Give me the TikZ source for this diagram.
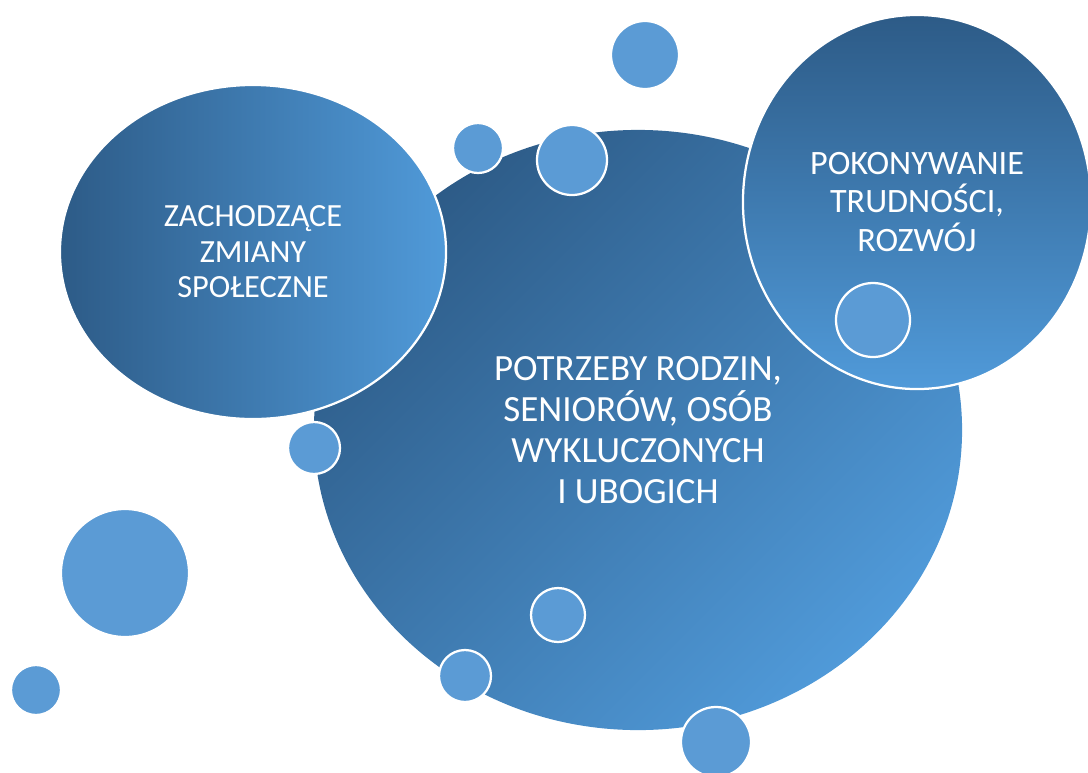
\documentclass[tikz,border=0pt]{standalone}
\usepackage{fontspec}
\setmainfont{Carlito}
\usetikzlibrary{shapes.geometric}

\definecolor{darkblue}{HTML}{2D5B87}
\definecolor{lightblue}{HTML}{509AD9}
\definecolor{bubblefill}{HTML}{5B9BD5}

\begin{document}
\begin{tikzpicture}[x=0.025cm, y=-0.025cm,
  bigblob/.style={ellipse, draw=white, line width=1.6pt, inner sep=0pt, text=white, align=center},
  bubble/.style={circle, fill=bubblefill, draw=white, line width=1.6pt, inner sep=0pt, minimum size=#1}]
\useasboundingbox (0,0) rectangle (1088,772);

% Main circle
\node[bigblob, draw=none, minimum width=16.2cm, minimum height=15cm,
  top color=darkblue, bottom color=lightblue, shading angle=45,
  font=\fontsize{26.3}{29.3}\selectfont] (needs) at (638,430)
  {POTRZEBY RODZIN,\\SENIORÓW, OSÓB\\WYKLUCZONYCH\\I UBOGICH};

% Side circles
\node[bigblob, minimum width=9.65cm, minimum height=8.35cm,
  left color=darkblue, right color=lightblue,
  font=\fontsize{23}{25.2}\selectfont] (changes) at (253,252)
  {ZACHODZĄCE\\ZMIANY\\SPOŁECZNE};
\node[bigblob, minimum width=8.7cm, minimum height=9.35cm,
  top color=darkblue, bottom color=lightblue,
  font=\fontsize{24.3}{27.3}\selectfont] (growth) at (917,202)
  {POKONYWANIE\\TRUDNOŚCI,\\ROZWÓJ};

% Small bubbles
\node[bubble=1.7cm] (b1) at (645,55) {};
\node[bubble=1.25cm] (b2) at (478,148) {};
\node[bubble=1.75cm] (b3) at (572,160) {};
\node[bubble=1.85cm] (b4) at (873,320) {};
\node[bubble=1.3cm] (b5) at (314,448) {};
\node[bubble=3.2cm] (b6) at (125,573) {};
\node[bubble=1.25cm] (b7) at (36,690) {};
\node[bubble=1.35cm] (b8) at (558,615) {};
\node[bubble=1.3cm] (b9) at (465,676) {};
\node[bubble=1.75cm] (b10) at (716,742) {};
\end{tikzpicture}
\end{document}
